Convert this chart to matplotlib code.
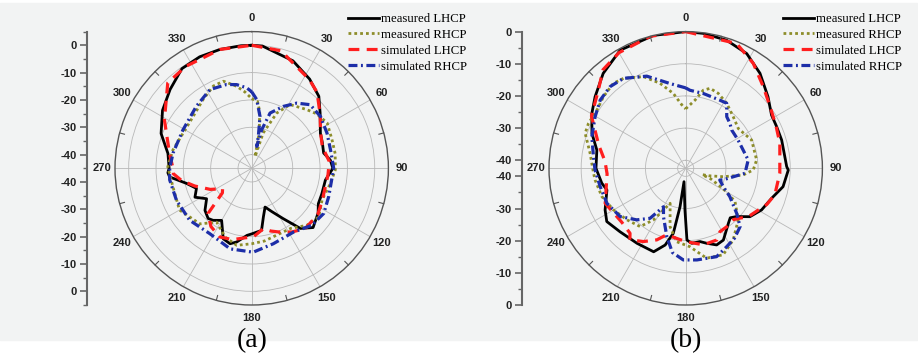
import numpy as np
import matplotlib
matplotlib.use("Agg")
import matplotlib.pyplot as plt
from matplotlib.patches import Rectangle

# ---------------------------------------------------------------------------
# Data (angle in deg, clockwise from top; gain in dB)
# ---------------------------------------------------------------------------
# panel (a)
a_meas_lhcp_ang = [0, 5, 21, 33, 43, 51, 63, 70, 78, 84, 90, 99, 110, 118, 124, 134, 141,
                   148, 155, 161, 166.5, 171, 180, 184, 188, 191.5, 196, 202, 210, 216.6,
                   221, 228, 236, 243, 250, 257, 264, 267, 270, 280, 291, 303, 314, 325,
                   335, 345, 355, 360]
a_meas_lhcp_db = [0, -0.1, -2.9, -6.1, -9.0, -12.8, -16.8, -17.5, -18.1, -16.1, -15.3, -17.7,
                  -17.7, -17.4, -15.7, -13.8, -16.7, -23.3, -27.5, -30, -26.7, -22, -21, -20.4,
                  -19, -17.5, -16.3, -17.2, -23, -21.3, -20.7, -22, -25.1, -21.7, -23.5, -20.5,
                  -14.8, -14.3, -14.8, -13.9, -9.5, -6.1, -3.5, -0.5, 0, 0, 0, 0]

a_meas_rhcp_ang = [0, 5, 8, 12, 16, 18, 24.4, 31, 43, 50, 59, 70, 80, 91, 101, 114, 126, 136,
                   147, 156.5, 170, 180, 191, 201, 213, 223, 240, 257, 271, 283, 297, 311.5,
                   324.7, 335, 342, 349.6, 355, 360]
a_meas_rhcp_db = [-19.5, -20.5, -24, -31.8, -40.6, -31.4, -22.8, -17.8, -15.6, -14, -12.8, -13.8,
                  -14, -14.4, -15.7, -16.8, -14.7, -16, -18.8, -19, -18, -17.4, -16.3, -18, -21.5,
                  -17.2, -14.5, -15.4, -14.3, -15.4, -16.8, -16.4, -14.2, -11.8, -11.5, -14.5,
                  -17, -19.5]

a_sim_lhcp_ang = [0, 14, 33, 40.6, 52, 62, 73, 85, 95, 114, 125, 138.4, 148, 157, 163, 169,
                  178.7, 185, 195, 205, 215, 224, 230, 235, 243, 252.7, 260, 266, 270, 280,
                  299, 315.5, 327, 345, 360]
a_sim_lhcp_db = [0, -0.7, -6.3, -8.3, -13.2, -16.5, -18, -16.5, -17, -16.7, -15.5, -15.5, -17.5,
                 -19.7, -21, -22.5, -19.9, -19.5, -18, -17.3, -19, -22, -31, -32, -28, -23.2,
                 -19, -16.3, -16.2, -14.5, -8.5, -1.2, -0.6, 0, 0]

a_sim_rhcp_ang = [0, 4.2, 9.1, 11.8, 13, 14.6, 18.4, 27, 34.7, 42.6, 53, 65, 77, 90, 96, 110,
                  122, 133.4, 146.7, 164, 179, 195, 212.7, 230, 247, 262, 270, 281, 299.2,
                  318.2, 332, 343.3, 349.8, 356.4, 360]
a_sim_rhcp_db = [-17, -19.8, -25.8, -33.1, -36.8, -30.4, -23.7, -19.6, -16, -13.4, -13.5, -14.6,
                 -15.4, -15, -15.4, -15, -13.9, -14.7, -17.1, -16.3, -14.3, -14.5, -16.6, -15.4,
                 -15.1, -14.7, -15, -15.7, -16.2, -14.6, -12.4, -13, -13.9, -15.5, -17]

# panel (b)
b_meas_lhcp_ang = [0, 7.4, 17.7, 28, 38, 49, 58.2, 65.4, 73.6, 89, 91, 100.7, 109.2, 118.8, 127,
                   133.5, 138, 142, 152.3, 158, 164.4, 169, 175.4, 179, 181, 187.2, 188.4,
                   190.8, 195, 201, 213, 226, 236, 242.7, 254.6, 260, 270, 281.6, 290.4, 300.3,
                   308.3, 319, 331, 346.5, 360]
b_meas_lhcp_db = [0, -0.2, -0.7, -2.1, -5, -8.6, -11.1, -11.4, -11.4, -11.1, -10.6, -11.7, -14.2,
                  -15.6, -17.5, -20.7, -21.8, -20.9, -17.3, -16.8, -18.3, -19.3, -19.1, -20.2,
                  -29.5, -38.3, -30.4, -21.9, -17.8, -14.7, -14.7, -14.1, -12.9, -14.3, -17.1,
                  -16, -14.6, -14.3, -11.4, -8.7, -6.6, -3.4, -0.5, 0, 0]

b_meas_rhcp_ang = [0, 7.8, 12.7, 17, 23.5, 32.2, 42.7, 53, 66.8, 83.3, 91.4, 96.6, 102.6, 108,
                   111, 113, 117, 120, 124, 134.5, 146.4, 156.6, 166.9, 177, 187, 195, 204,
                   208, 212, 218, 228.8, 240, 251.3, 262.6, 267, 279, 289.2, 294.8, 303.2, 311,
                   319.6, 325.3, 330, 335.2, 343.2, 350.6, 357.8, 360]
b_meas_rhcp_db = [-24, -21.1, -17.6, -16.5, -17.1, -18.6, -20.7, -22, -20.2, -20.3, -21.5, -24.5,
                  -30.5, -35, -37, -34, -31.1, -27.8, -24, -19.6, -15.8, -13.2, -13.8, -18.1,
                  -19.5, -23.7, -30.6, -27.8, -23.6, -19.5, -18.2, -16.6, -15, -14.1, -13.8,
                  -12.4, -9.4, -9.2, -9.5, -8.6, -7.8, -8.5, -9.9, -11.1, -14.9, -18.9, -23.4,
                  -24]

b_sim_lhcp_ang = [0, 22.2, 32.8, 43.6, 53.8, 65, 75, 93, 106.6, 114, 127.7, 132.6, 137, 145,
                  151.6, 156.6, 167, 180, 196, 202, 210, 218, 220.6, 230, 246.5, 266, 275, 285,
                  299, 312, 320, 330, 345, 360]
b_sim_lhcp_db = [0, -0.6, -3.7, -7.5, -10, -11.5, -12.2, -13.2, -13.6, -14.9, -17.9, -19.6,
                 -20.7, -20.3, -20.1, -18.2, -18.1, -19.7, -21, -18.5, -16.2, -14.3, -15.9,
                 -16.5, -15.2, -18, -17.3, -14.5, -9, -6, -2.5, -1, 0, 0]

b_sim_rhcp_ang = [0, 3.1, 13.2, 26.7, 32.2, 38.5, 44.5, 50.2, 61, 82.4, 94.8, 107, 109, 116,
                  122.7, 131.4, 137, 145, 152.4, 160.7, 173, 181.5, 189, 195.5, 204.8, 210,
                  215.5, 223.5, 233.6, 246, 258, 269, 277.2, 288.6, 299.6, 308.6, 317.2, 325.3,
                  337.1, 349.5, 360]
b_sim_rhcp_db = [-17.5, -18.2, -18.6, -18.8, -18.6, -22, -22.9, -23.9, -24, -22.9, -24, -30.3,
                 -31.3, -29.5, -26.2, -21.4, -17.7, -16, -15, -13.4, -13.8, -14, -16, -20.5,
                 -26, -28.7, -23.4, -20.4, -17.2, -15.7, -15.3, -14.3, -13.6, -11.7, -10.1,
                 -8.5, -7.9, -8.5, -11.4, -15.7, -17.5]

series_labels = ["measured LHCP", "measured RHCP", "simulated LHCP", "simulated RHCP"]
angle_ticks = list(range(0, 360, 30))
ring_levels = [-40, -30, -20, -10, 0]
axis_labels = [0, -10, -20, -30, -40]

# ---------------------------------------------------------------------------
# Styles
# ---------------------------------------------------------------------------
STYLES = [
    dict(color="#000000", ls="-", lw=2.0),
    dict(color="#8d8d2a", ls=(0, (1.0, 1.1)), lw=2.0),
    dict(color="#ff1e1e", ls=(0, (3.4, 2.3)), lw=2.3),
    dict(color="#1d2ea8", ls=(0, (2.8, 1.1, 0.6, 1.1)), lw=2.3),
]
BG = "#f2f3f3"
TICK_FONT = dict(family="Liberation Sans", weight="bold", size=8, color="#222222")
SERIF = "Liberation Serif"

W, H = 918, 362
R_PX = 136.7          # outer circle radius in pixels
CY = 168.3            # circle centre y (from top)

fig = plt.figure(figsize=(W / 100, H / 100), dpi=100)
fig.patches.append(Rectangle((0, 22 / H), 917 / W, 1 - 22 / H - 3 / H,
                             transform=fig.transFigure, color=BG, zorder=-10))


def panel(cx, rmin, rmax, curves, axis_x, legend_x, caption):
    """One polar pattern with its Origin-style vertical scale and legend."""
    ax = fig.add_axes([(cx - R_PX) / W, (H - CY - R_PX) / H, 2 * R_PX / W, 2 * R_PX / H],
                      projection="polar")
    ax.set_facecolor("none")
    ax.set_theta_zero_location("N")
    ax.set_theta_direction(-1)
    handles = []
    for (ang, db), st in zip(curves, STYLES):
        h, = ax.plot(np.deg2rad(ang), db, color=st["color"], ls=st["ls"], lw=st["lw"])
        handles.append(h)
    ax.set_rlim(rmin, rmax)
    ax.set_rticks([r for r in ring_levels if r < rmax])
    ax.set_yticklabels([])
    ax.set_xticks(np.deg2rad(angle_ticks))
    ax.set_xticklabels([])
    ax.grid(True, color="#b8b8b8", lw=0.6)
    ax.spines["polar"].set_color("#555555")
    ax.spines["polar"].set_linewidth(1.0)
    ax.tick_params(length=0)
    # small ticks on the rim between the spokes
    tick_len = 5 / R_PX * (rmax - rmin)
    for t in np.deg2rad(np.arange(15, 360, 30)):
        ax.plot([t, t], [rmax - tick_len, rmax], color="#555555", lw=0.8, clip_on=False)
    for a in angle_ticks:
        t = np.deg2rad(a)
        ax.text(0.5 + 0.548 * np.sin(t), 0.5 + 0.548 * np.cos(t), str(a),
                transform=ax.transAxes, ha="center", va="center", **TICK_FONT)

    # vertical dB scale spanning the diameter
    span = rmax - rmin
    sax = fig.add_axes([axis_x / W, (H - CY - R_PX) / H, 0.0001, 2 * R_PX / H])
    sax.set_facecolor("none")
    sax.set_ylim(-span, span)
    for s in ("top", "right", "bottom"):
        sax.spines[s].set_visible(False)
    sax.spines["left"].set_color("#666666")
    sax.spines["left"].set_linewidth(1.5)
    sax.set_xticks([])
    major = [v - rmin for v in axis_labels] + [-(v - rmin) for v in axis_labels[::-1]]
    sax.set_yticks(major)
    sax.set_yticklabels([str(v) for v in axis_labels] + [str(v) for v in axis_labels[::-1]],
                        fontdict=TICK_FONT)
    minor = np.arange(-span, span + 0.01, 5)
    minor = [m for m in minor if min(abs(m - v) for v in major) > 1]
    sax.set_yticks(minor, minor=True)
    sax.tick_params(axis="y", which="major", direction="out", length=5, width=1.2,
                    color="#666666", pad=2)
    sax.tick_params(axis="y", which="minor", direction="out", length=3, width=1.0,
                    color="#666666")

    fig.legend(handles, series_labels, loc="upper left",
               bbox_to_anchor=(legend_x / W, 1 - 13 / H), frameon=False,
               prop=dict(family=SERIF, size=9.2), handlelength=2.4, handletextpad=0.2,
               labelspacing=0.3, borderpad=0, borderaxespad=0)
    fig.text(cx / W, 1 - 341 / H, caption, ha="center", va="center",
             family=SERIF, size=20)


panel(251.7, -45, 5,
      [(a_meas_lhcp_ang, a_meas_lhcp_db), (a_meas_rhcp_ang, a_meas_rhcp_db),
       (a_sim_lhcp_ang, a_sim_lhcp_db), (a_sim_rhcp_ang, a_sim_rhcp_db)],
      axis_x=86.7, legend_x=348, caption="(a)")
panel(685.7, -42.5, 0,
      [(b_meas_lhcp_ang, b_meas_lhcp_db), (b_meas_rhcp_ang, b_meas_rhcp_db),
       (b_sim_lhcp_ang, b_sim_lhcp_db), (b_sim_rhcp_ang, b_sim_rhcp_db)],
      axis_x=521.7, legend_x=783, caption="(b)")

fig.savefig("out.png", dpi=100, facecolor="white")
